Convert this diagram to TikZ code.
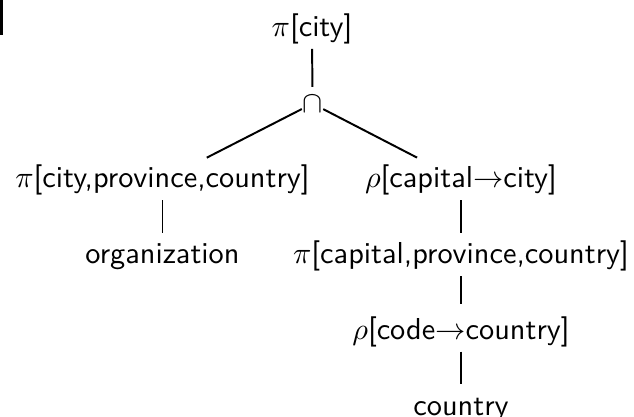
\documentclass[tikz,border=0pt]{standalone}
\usepackage{amsmath}

\begin{document}
\begin{tikzpicture}[x=0.33pt, y=-0.33pt, font=\sffamily,
		op/.style={inner sep=0pt, text height=0.75em, text depth=0.25em, anchor=base},
		edge/.style={line width=0.65pt, shorten <=1.4pt, shorten >=2.5pt}]

		\useasboundingbox (0,0) rectangle (634,416);

		% clipped bracket in the top left corner
		\draw[line width=0.9pt] (1.35,0) -- (1.35,34) -- (3.3,34);

		% ================= query tree =================
		\node[op] (projcity) at (312,36.5) {$\pi$[city]};
		\node[inner sep=0pt, anchor=base] (inter) at (312.5,112) {$\cap$};

		% left branch
		\node[op] (projorg) at (162.5,187.9) {$\pi$[city,province,country]};
		\node[op] (org) at (162.5,263.6) {organization};

		% right branch
		\node[op] (rencap) at (461,187.9) {$\rho$[capital$\rightarrow$city]};
		\node[op] (projcap) at (461,263.6) {$\pi$[capital,province,country]};
		\node[op] (rencode) at (461,339.3) {$\rho$[code$\rightarrow$country]};
		\node[op] (country) at (461,415) {country};

		% edges
		\draw[edge] (projcity) -- (inter);
		\draw[edge, shorten <=0pt, shorten >=5pt] (inter) -- (projorg);
		\draw[edge, shorten <=0pt, shorten >=5pt] (inter) -- (rencap);
		\draw[edge] (projorg) -- (org);
		\draw[edge] (rencap) -- (projcap);
		\draw[edge, shorten >=4pt] (projcap) -- (rencode);
		\draw[edge] (rencode) -- (country);

	\end{tikzpicture}
\end{document}
